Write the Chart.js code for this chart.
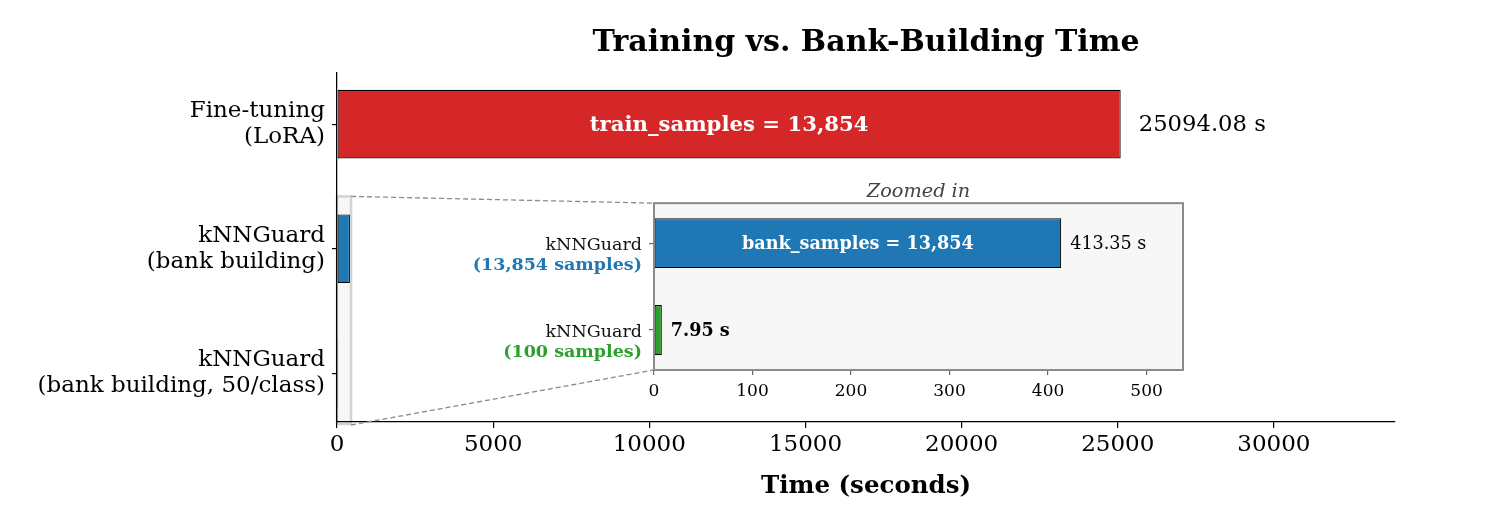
<!DOCTYPE html>
<html>
<head>
<meta charset="utf-8">
<script src="https://cdn.jsdelivr.net/npm/chart.js@4.4.1/dist/chart.umd.min.js"></script>
<style>
  body { margin: 0; background: #fff; }
  #wrap { position: relative; width: 1506px; height: 520px; }
  #main { position: absolute; left: 0; top: 0; }
  #inset { position: absolute; left: 440px; top: 175px; }
</style>
</head>
<body>
<div id="wrap">
  <canvas id="main" width="1506" height="520"></canvas>
  <canvas id="inset" width="760" height="240"></canvas>
</div>
<script>
// main chart data
const mainLabels = [['Fine-tuning', '(LoRA)'], ['kNNGuard', '(bank building)'], ['kNNGuard', '(bank building, 50/class)']];
const mainTimes = [25094.08, 413.35, 7.95];
const barColors = ['#d62728', '#1f77b4', '#2ca02c'];
const mainXTicks = [0, 5000, 10000, 15000, 20000, 25000, 30000];
const mainInside = ['train_samples = 13,854', null, null];

// inset (zoomed) data
const insetLines = ['kNNGuard', 'kNNGuard'];
const insetSubLines = ['(13,854 samples)', '(100 samples)'];
const insetTimes = [413.35, 7.95];
const insetColors = ['#1f77b4', '#2ca02c'];
const insetXTicks = [0, 100, 200, 300, 400, 500];
const insetInside = ['bank_samples = 13,854', null];
const insetBold = [false, true];

const SERIF = "'DejaVu Serif', serif";
Chart.defaults.font.family = SERIF;
Chart.defaults.color = '#000';

const insetDecor = {
  id: 'insetDecor',
  beforeDraw(chart) {
    const {ctx, chartArea: a} = chart;
    ctx.save();
    ctx.fillStyle = '#f7f7f7';
    ctx.fillRect(a.left, a.top, a.right - a.left, a.bottom - a.top);
    ctx.restore();
  },
  afterDatasetsDraw(chart) {
    const {ctx} = chart;
    const bars = chart.getDatasetMeta(0).data;
    ctx.save();
    ctx.textBaseline = 'middle';
    bars.forEach((bar, i) => {
      ctx.textAlign = 'left';
      ctx.fillStyle = '#000';
      ctx.font = (insetBold[i] ? 'bold ' : '') + '17.6px ' + SERIF;
      ctx.fillText(insetTimes[i].toFixed(2) + ' s', bar.x + 9, bar.y + 1);
      if (insetInside[i]) {
        ctx.textAlign = 'center';
        ctx.fillStyle = '#fff';
        ctx.font = 'bold 17.6px ' + SERIF;
        ctx.fillText(insetInside[i], (bar.x + bar.base) / 2, bar.y + 1);
      }
    });
    ctx.restore();
  },
  afterDraw(chart) {
    const {ctx, chartArea: a, scales: {y}} = chart;
    ctx.save();
    ctx.strokeStyle = '#8a8a8a';
    ctx.lineWidth = 2;
    ctx.strokeRect(a.left, a.top, a.right - a.left, a.bottom - a.top);
    ctx.textAlign = 'right';
    ctx.textBaseline = 'middle';
    insetLines.forEach((txt, i) => {
      const yy = y.getPixelForValue(i);
      ctx.font = '17.5px ' + SERIF;
      ctx.fillStyle = '#111';
      ctx.fillText(txt, a.left - 12, yy + 2);
      ctx.font = 'bold 17.5px ' + SERIF;
      ctx.fillStyle = insetColors[i];
      ctx.fillText(insetSubLines[i], a.left - 12, yy + 22);
    });
    ctx.restore();
  }
};

const insetChart = new Chart(document.getElementById('inset'), {
  type: 'bar',
  data: {
    datasets: [{
      data: insetTimes.map((t, i) => ({x: t, y: i})),
      backgroundColor: insetColors,
      borderColor: '#000',
      borderWidth: 1.1,
      borderSkipped: false,
      categoryPercentage: 1,
      barPercentage: 0.575
    }]
  },
  options: {
    responsive: false,
    animation: false,
    indexAxis: 'y',
    layout: {padding: {left: 0, right: 17, top: 0, bottom: 0}},
    plugins: {
      legend: {display: false},
      tooltip: {enabled: false},
      title: {
        display: true, text: 'Zoomed in', fullSize: false, color: '#444',
        font: {size: 19.3, style: 'italic', weight: 'normal'},
        padding: {top: 5, bottom: 0}
      }
    },
    scales: {
      x: {
        type: 'linear', min: 0, max: 537, offset: false,
        afterBuildTicks: s => { s.ticks = insetXTicks.map(v => ({value: v})); },
        afterFit: s => { s.height = 45; },
        grid: {display: true, offset: false, drawOnChartArea: false, drawTicks: true, tickLength: 5, color: '#666', lineWidth: 1.2},
        border: {display: false},
        ticks: {callback: v => String(v), font: {size: 17}, color: '#000', padding: 6, maxRotation: 0, autoSkip: false}
      },
      y: {
        type: 'linear', min: -0.46, max: 1.46, reverse: true, offset: false,
        afterBuildTicks: s => { s.ticks = insetLines.map((_, i) => ({value: i})); },
        afterFit: s => { s.width = 214; },
        grid: {display: true, offset: false, drawOnChartArea: false, drawTicks: true, tickLength: 5, color: '#666', lineWidth: 1.2},
        border: {display: false},
        ticks: {callback: () => '', autoSkip: false}
      }
    }
  },
  plugins: [insetDecor]
});

const zoomBoxX = [0, 450];
const zoomBoxTop = 0.58;

const mainDecor = {
  id: 'mainDecor',
  beforeDraw(chart) {
    const {ctx, chartArea: a, scales: {x, y}} = chart;
    const l = x.getPixelForValue(zoomBoxX[0]), r = x.getPixelForValue(zoomBoxX[1]);
    const t = y.getPixelForValue(zoomBoxTop), b = a.bottom + 2;
    ctx.save();
    ctx.fillStyle = '#f7f7f7';
    ctx.fillRect(l, t, r - l, b - t);
    ctx.strokeStyle = '#d2d2d2';
    ctx.lineWidth = 2.5;
    ctx.strokeRect(l, t, r - l, b - t);
    ctx.restore();
  },
  afterDatasetsDraw(chart) {
    const {ctx} = chart;
    const bars = chart.getDatasetMeta(0).data;
    ctx.save();
    ctx.textBaseline = 'middle';
    bars.forEach((bar, i) => {
      if (!mainInside[i]) return;
      ctx.textAlign = 'left';
      ctx.fillStyle = '#000';
      ctx.font = '22.7px ' + SERIF;
      ctx.fillText(mainTimes[i].toFixed(2) + ' s', bar.x + 18, bar.y + 1);
      ctx.textAlign = 'center';
      ctx.fillStyle = '#fff';
      ctx.font = 'bold 21.2px ' + SERIF;
      ctx.fillText(mainInside[i], (bar.x + bar.base) / 2, bar.y + 1);
    });
    ctx.restore();
  },
  afterDraw(chart) {
    const {ctx, chartArea: a, scales: {x, y}} = chart;
    const r = x.getPixelForValue(zoomBoxX[1]);
    const t = y.getPixelForValue(zoomBoxTop), b = a.bottom + 3;
    const ia = insetChart.chartArea;
    const ox = 440, oy = 175;
    ctx.save();
    ctx.strokeStyle = '#8a8a8a';
    ctx.lineWidth = 1.3;
    ctx.setLineDash([5, 3]);
    ctx.beginPath();
    ctx.moveTo(r, t); ctx.lineTo(ox + ia.left, oy + ia.top);
    ctx.moveTo(r, b); ctx.lineTo(ox + ia.left, oy + ia.bottom);
    ctx.stroke();
    ctx.restore();
  }
};

new Chart(document.getElementById('main'), {
  type: 'bar',
  data: {
    datasets: [{
      data: mainTimes.map((t, i) => ({x: t, y: i})),
      backgroundColor: barColors,
      borderColor: '#000',
      borderWidth: 1.1,
      borderSkipped: false,
      categoryPercentage: 1,
      barPercentage: 0.55
    }]
  },
  options: {
    responsive: false,
    animation: false,
    indexAxis: 'y',
    layout: {padding: {left: 0, right: 111, top: 0, bottom: 0}},
    plugins: {
      legend: {display: false},
      tooltip: {enabled: false},
      title: {
        display: true, text: 'Training vs. Bank-Building Time', fullSize: false, color: '#000',
        font: {size: 30, weight: 'bold'},
        padding: {top: 25, bottom: 12}
      }
    },
    scales: {
      x: {
        type: 'linear', min: 0, max: 33877, offset: false,
        afterBuildTicks: s => { s.ticks = mainXTicks.map(v => ({value: v})); },
        afterFit: s => { s.height = 98; },
        grid: {display: true, offset: false, drawOnChartArea: false, drawTicks: true, tickLength: 6, color: '#000', lineWidth: 1.2},
        border: {display: true, color: '#000', width: 1.3},
        ticks: {callback: v => String(v), font: {size: 23}, color: '#000', padding: 3, maxRotation: 0, autoSkip: false},
        title: {display: true, text: 'Time (seconds)', color: '#000', font: {size: 24.5, weight: 'bold'}, padding: {top: 0, bottom: 19}}
      },
      y: {
        type: 'linear', min: -0.41, max: 2.39, reverse: true, offset: false,
        afterBuildTicks: s => { s.ticks = mainLabels.map((_, i) => ({value: i})); },
        afterFit: s => { s.width = 337; },
        grid: {display: true, offset: false, drawOnChartArea: false, drawTicks: true, tickLength: 5, color: '#000', lineWidth: 1.2},
        border: {display: true, color: '#000', width: 1.3},
        ticks: {callback: v => mainLabels[v], font: {size: 23, lineHeight: 1.13}, color: '#000', padding: 7, autoSkip: false}
      }
    }
  },
  plugins: [mainDecor]
});
</script>
</body>
</html>
